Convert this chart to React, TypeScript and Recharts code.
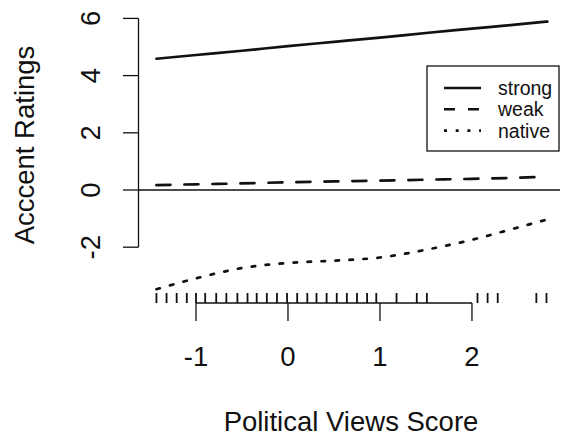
import React from "react";
import { ComposedChart, Line, Scatter, XAxis, YAxis, ReferenceLine, Customized } from "recharts";

// values
const xs = [-1.43, -1.0, -0.5, 0, 0.5, 1.0, 1.5, 2.0, 2.5, 2.82];
const strong = [4.59, 4.72, 4.87, 5.03, 5.18, 5.33, 5.49, 5.64, 5.79, 5.89];
const weak = [0.17, 0.2, 0.23, 0.27, 0.3, 0.33, 0.36, 0.39, 0.43, 0.47];
const native = [-3.47, -3.09, -2.73, -2.55, -2.47, -2.36, -2.09, -1.74, -1.31, -1.03];

const rugValues = [
  -1.43, -1.32, -1.21, -1.1, -1.0, -0.9, -0.78, -0.67, -0.55, -0.44, -0.34, -0.23, -0.12, -0.01, 0.1, 0.21,
  0.31, 0.42, 0.53, 0.64, 0.75, 0.86, 0.96, 1.18, 1.4, 1.51, 2.06, 2.17, 2.28, 2.7, 2.81,
];

const xTicks = [-1, 0, 1, 2];
const yTicks = [-2, 0, 2, 4, 6];
const seriesNames = ["strong", "weak", "native"];
const dashes = ["", "14 14", "3.5 10.5"];
const legendDashes = ["", "11 13", "3 8.7"];

const X_DOMAIN: [number, number] = [-1.625, 2.957];
const Y_DOMAIN: [number, number] = [-3.951, 6.294];

const FONT = "'Liberation Sans', Arial, Helvetica, sans-serif";
const INK = "#111";

const chartData = xs.map((x, i) => ({ x, strong: strong[i], weak: weak[i], native: native[i] }));
const rugData = rugValues.map((x) => ({ x, y: Y_DOMAIN[0] }));

const XTick = (props: any) => {
  const { x, y, payload } = props;
  return (
    <text x={x} y={y + 45} textAnchor="middle" fontSize={27.5} fontFamily={FONT} fill={INK}>
      {payload.value}
    </text>
  );
};

const YTick = (props: any) => {
  const { x, y, payload } = props;
  const tx = x - 23;
  return (
    <text x={tx} y={y} transform={`rotate(-90, ${tx}, ${y})`} textAnchor="middle" fontSize={27.5} fontFamily={FONT} fill={INK}>
      {payload.value}
    </text>
  );
};

const RugMark = (props: any) => {
  const { cx, cy } = props;
  return <line x1={cx} x2={cx} y1={cy} y2={cy - 10} stroke={INK} strokeWidth={1.8} />;
};

const Extras = () => (
  <g fontFamily={FONT} fill={INK}>
    <text x={351} y={431} textAnchor="middle" fontSize={27.5}>
      Political Views Score
    </text>
    <text x={34} y={145} transform="rotate(-90, 34, 145)" textAnchor="middle" fontSize={27.5}>
      Acccent Ratings
    </text>
    {/* legend box */}
    <g transform="translate(427, 66)">
      <rect x={0} y={0} width={132} height={85} fill="#fff" stroke={INK} strokeWidth={1.3} />
      {seriesNames.map((name, i) => (
        <g key={name}>
          <line
            x1={17}
            x2={54}
            y1={22 + i * 21.3}
            y2={22 + i * 21.3}
            stroke={INK}
            strokeWidth={2.6}
            strokeDasharray={legendDashes[i] || undefined}
          />
          <text x={71} y={22 + i * 21.3} dominantBaseline="central" fontSize={19.5}>
            {name}
          </text>
        </g>
      ))}
    </g>
  </g>
);

export default function App() {
  return (
    <div style={{ position: "absolute", left: 0, top: 0, width: 561, height: 439, background: "#fff" }}>
      <ComposedChart width={561} height={439} data={chartData} margin={{ top: 10, right: 1, left: 78.5, bottom: 76 }}>
        <XAxis
          dataKey="x"
          type="number"
          domain={X_DOMAIN}
          allowDataOverflow
          ticks={xTicks}
          height={60}
          axisLine={false}
          tickSize={18}
          tickMargin={0}
          tickLine={{ stroke: INK, strokeWidth: 1.3 }}
          tick={<XTick />}
          interval={0}
        />
        <YAxis
          type="number"
          domain={Y_DOMAIN}
          allowDataOverflow
          ticks={yTicks}
          width={60}
          axisLine={false}
          tickSize={15.5}
          tickMargin={0}
          tickLine={{ stroke: INK, strokeWidth: 1.3 }}
          tick={<YTick />}
          interval={0}
        />
        <ReferenceLine y={0} stroke={INK} strokeWidth={1.3} />
        <ReferenceLine
          segment={[{ x: X_DOMAIN[0], y: -2 }, { x: X_DOMAIN[0], y: 6 }]}
          stroke={INK}
          strokeWidth={1.3}
          ifOverflow="visible"
        />
        <ReferenceLine
          segment={[{ x: -1, y: Y_DOMAIN[0] }, { x: 2, y: Y_DOMAIN[0] }]}
          stroke={INK}
          strokeWidth={1.3}
          ifOverflow="visible"
        />
        {seriesNames.map((name, i) => (
          <Line
            key={name}
            dataKey={name}
            type="monotone"
            stroke={INK}
            strokeWidth={2.7}
            strokeLinecap="round"
            strokeDasharray={dashes[i] || undefined}
            dot={false}
            activeDot={false}
            isAnimationActive={false}
          />
        ))}
        <Scatter data={rugData} dataKey="y" shape={<RugMark />} isAnimationActive={false} />
        <Customized component={<Extras />} />
      </ComposedChart>
    </div>
  );
}
